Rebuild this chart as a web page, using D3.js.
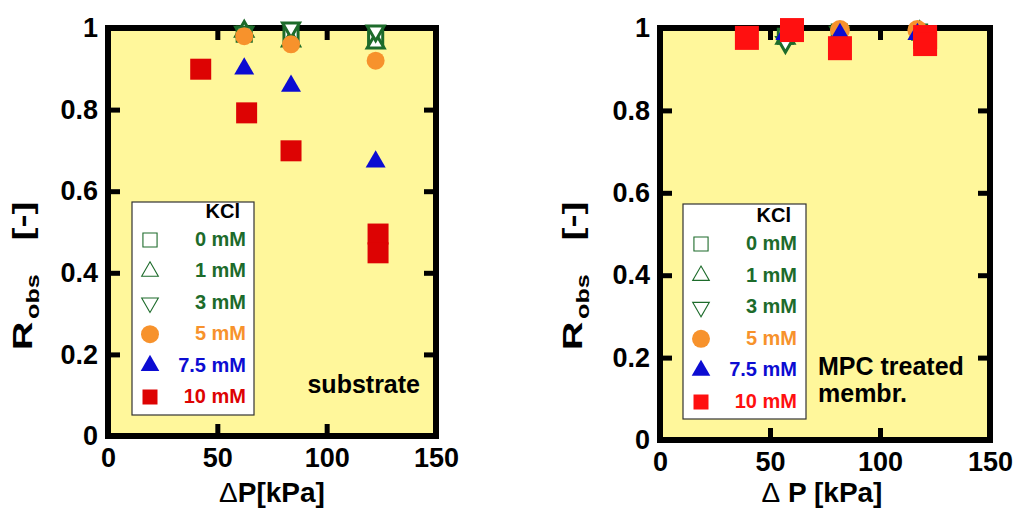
<!DOCTYPE html>
<html><head><meta charset="utf-8">
<script src="https://cdn.jsdelivr.net/npm/d3@7"></script>
<style>
body{margin:0;background:#fff}
text{font-family:"Liberation Sans",Arial,Helvetica,sans-serif;font-weight:bold}
</style></head><body>
<svg id="chart" width="1018" height="512"></svg>
<script>
// axis ticks
const xTicks = [0, 50, 100, 150];
const yTicks = [0, 0.2, 0.4, 0.6, 0.8, 1];
const legendTitle = "KCl";
const seriesNames = ["0 mM", "1 mM", "3 mM", "5 mM", "7.5 mM", "10 mM"];

// substrate membrane: [ΔP (kPa), R_obs]
const sub0mM  = [[62.3, 0.985], [83.7, 0.985], [122.4, 0.975]];
const sub1mM  = [[62.3, 0.992], [83.7, 0.968], [122.4, 0.963]];
const sub3mM  = [[62.3, 0.990], [83.7, 1.000], [122.4, 0.993]];
const sub5mM  = [[62.3, 0.980], [83.7, 0.960], [122.4, 0.920]];
const sub75mM = [[62.3, 0.900], [83.7, 0.858], [122.4, 0.672]];
const sub10mM = [[42.4, 0.899], [63.4, 0.792], [83.7, 0.699], [123.5, 0.495], [123.5, 0.449]];

// MPC treated membrane: [ΔP (kPa), R_obs]
const mpc0mM  = [[57.0, 0.980], [81.5, 0.990], [118.0, 0.990]];
const mpc1mM  = [[57.0, 0.975], [81.5, 0.985], [118.0, 0.990]];
const mpc3mM  = [[57.0, 0.965], [81.5, 0.990], [118.0, 0.985]];
const mpc5mM  = [[59.0, 0.993], [81.8, 0.995], [117.0, 0.995]];
const mpc75mM = [[57.0, 0.985], [81.8, 0.985], [117.0, 0.985]];
const mpc10mM = [[39.5, 0.976], [60.0, 0.995], [81.8, 0.951], [120.5, 0.978], [120.5, 0.961]];

const GREEN = "#1d6b2b", ORANGE = "#f7922c", BLUE = "#0c0cd2";
const YELLOW = "#fff79b";

const svg = d3.select("#chart");
const font = '"Liberation Sans",Arial,Helvetica,sans-serif';

// marker styles per series: symbol type, rotation, open/filled, colour
function styles(red) {
  return [
    {type: d3.symbolSquare,   rot: 0,   open: true,  color: GREEN},
    {type: d3.symbolTriangle, rot: 0,   open: true,  color: GREEN},
    {type: d3.symbolTriangle, rot: 180, open: true,  color: GREEN},
    {type: d3.symbolCircle,   rot: 0,   open: false, color: ORANGE},
    {type: d3.symbolTriangle, rot: 0,   open: false, color: BLUE},
    {type: d3.symbolSquare,   rot: 0,   open: false, color: red}
  ];
}

function drawPanel(cfg) {
  const x = d3.scaleLinear().domain([0, 150]).range(cfg.xr);
  const y = d3.scaleLinear().domain([0, 1]).range(cfg.yr);
  const g = svg.append("g");
  const [x0, x1] = cfg.xr, [y0, y1] = cfg.yr;

  g.append("rect").attr("x", x0).attr("y", y1).attr("width", x1 - x0).attr("height", y0 - y1)
    .attr("fill", YELLOW);

  const tickStyle = sel => {
    sel.select(".domain").remove();
    sel.selectAll(".tick line").attr("stroke", "#000").attr("stroke-width", 5);
    sel.selectAll(".tick text").attr("fill", "#000").attr("font-size", 27)
      .attr("font-family", font).attr("font-weight", "bold");
  };
  g.append("g").attr("transform", `translate(0,${y0})`)
    .call(d3.axisBottom(x).tickValues(xTicks).tickSize(-12).tickPadding(12).tickFormat(d3.format("~g")))
    .call(tickStyle);
  g.append("g").attr("transform", `translate(0,${y1})`)
    .call(d3.axisTop(x).tickValues(xTicks).tickSize(-12).tickFormat(""))
    .call(tickStyle);
  g.append("g").attr("transform", `translate(${x0},0)`)
    .call(d3.axisLeft(y).tickValues(yTicks).tickSize(-12).tickPadding(10).tickFormat(d3.format("~g")))
    .call(tickStyle);
  g.append("g").attr("transform", `translate(${x1},0)`)
    .call(d3.axisRight(y).tickValues(yTicks).tickSize(-12).tickFormat(""))
    .call(tickStyle);

  // frame
  g.append("rect").attr("x", x0).attr("y", y1).attr("width", x1 - x0).attr("height", y0 - y1)
    .attr("fill", "none").attr("stroke", "#000").attr("stroke-width", 6);

  // y axis title (reads bottom to top, glyphs widened along the text direction)
  const yt = g.append("text")
    .attr("transform", `translate(${cfg.yTitleX},350) rotate(-90) scale(1.4,1)`)
    .attr("text-anchor", "start").attr("font-size", 28).attr("fill", "#000");
  yt.append("tspan").text("R");
  yt.append("tspan").attr("font-size", 18).attr("dx", 2).attr("dy", 7).text("obs");
  yt.append("tspan").attr("dx", 24).attr("dy", -7).text("[-]");

  const xt = g.append("text").attr("x", cfg.xTitleX).attr("y", 502)
    .attr("text-anchor", "middle").attr("font-size", 28).attr("fill", "#000");
  xt.append("tspan").attr("font-weight", "normal").text("Δ");
  xt.append("tspan").text(cfg.xTitle);

  // legend
  const L = cfg.legend;
  g.append("rect").attr("x", L.x).attr("y", L.y).attr("width", L.w).attr("height", L.h)
    .attr("fill", "#fff").attr("stroke", "#333").attr("stroke-width", 1.2);
  g.append("text").attr("x", L.textX - 6).attr("y", L.titleY).attr("text-anchor", "end")
    .attr("font-size", 20).attr("fill", "#000").text(legendTitle);
  const st = styles(cfg.red);
  const legendSizes = [200, 120, 120, 254, 150, 225];
  seriesNames.forEach((name, i) => {
    const by = L.rowY0 + i * L.rowStep;
    const s = st[i];
    g.append("path")
      .attr("d", d3.symbol().type(s.type).size(legendSizes[i])())
      .attr("transform", `translate(${L.markerX},${by - 6}) rotate(${s.rot})`)
      .attr("fill", s.open ? "#fff" : s.color)
      .attr("stroke", s.open ? s.color : "none").attr("stroke-width", 1.1);
    g.append("text").attr("x", L.textX).attr("y", by).attr("text-anchor", "end")
      .attr("font-size", 20).attr("fill", i < 3 ? GREEN : s.color).text(name);
  });

  // panel caption
  const cap = g.append("text").attr("font-size", 25).attr("fill", "#000")
    .attr("text-anchor", cfg.caption.anchor);
  cfg.caption.lines.forEach((t, i) => {
    cap.append("tspan").attr("x", cfg.caption.x).attr("y", cfg.caption.y + i * 27).text(t);
  });

  // data markers
  cfg.series.forEach((data, i) => {
    const s = st[i];
    g.append("g").selectAll("path").data(data).join("path")
      .attr("d", d3.symbol().type(s.type).size(cfg.sizes[i])())
      .attr("transform", d => `translate(${x(d[0])},${y(d[1])}) rotate(${s.rot})`)
      .attr("fill", s.open ? "#fff" : s.color)
      .attr("stroke", s.open ? s.color : "none")
      .attr("stroke-width", 3);
  });
}

drawPanel({
  xr: [108, 436], yr: [436, 28],
  series: [sub0mM, sub1mM, sub3mM, sub5mM, sub75mM, sub10mM],
  sizes: [200, 125, 125, 254, 173, 441],
  red: "#dd0303",
  yTitleX: 32, xTitleX: 272, xTitle: "P[kPa]",
  legend: {x: 132, y: 202, w: 122, h: 213, titleY: 218, rowY0: 246, rowStep: 31.4, markerX: 150, textX: 246},
  caption: {anchor: "end", x: 420, y: 393, lines: ["substrate"]}
});

drawPanel({
  xr: [660, 990], yr: [440, 28],
  series: [mpc0mM, mpc1mM, mpc3mM, mpc5mM, mpc75mM, mpc10mM],
  sizes: [200, 125, 125, 314, 173, 576],
  red: "#ff1010",
  yTitleX: 582, xTitleX: 822, xTitle: " P [kPa]",
  legend: {x: 683, y: 204, w: 123, h: 215, titleY: 222, rowY0: 250, rowStep: 31.6, markerX: 701, textX: 797},
  caption: {anchor: "start", x: 818, y: 375, lines: ["MPC treated", "membr."]}
});
</script>
</body></html>
